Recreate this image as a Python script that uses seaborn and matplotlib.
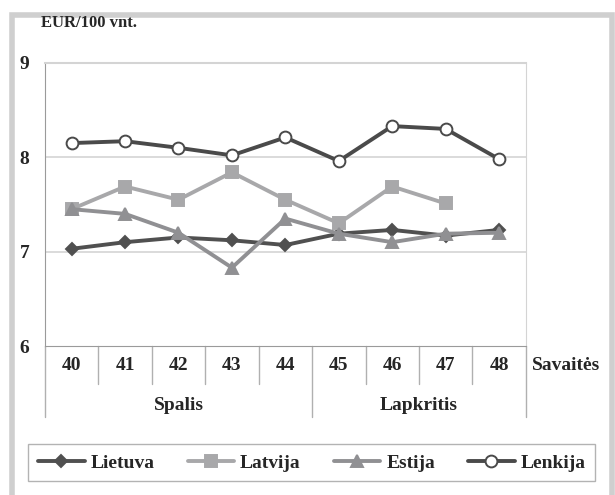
import numpy as np
import pandas as pd
import seaborn as sns
import matplotlib.pyplot as plt
from matplotlib.patches import Rectangle

weeks = ["40", "41", "42", "43", "44", "45", "46", "47", "48"]
months = ["Spalis", "Lapkritis"]
lietuva = [7.03, 7.10, 7.15, 7.12, 7.07, 7.19, 7.23, 7.17, 7.23]
latvija = [7.45, 7.69, 7.55, 7.84, 7.55, 7.30, 7.69, 7.51, np.nan]
estija = [7.45, 7.40, 7.20, 6.83, 7.35, 7.19, 7.10, 7.19, 7.20]
lenkija = [8.15, 8.17, 8.10, 8.02, 8.21, 7.96, 8.33, 8.30, 7.98]

df = pd.DataFrame({"week": weeks, "Lietuva": lietuva, "Latvija": latvija,
                   "Estija": estija, "Lenkija": lenkija})
long = df.melt(id_vars="week", var_name="country", value_name="price")

sns.set_style("white")
plt.rcParams["font.family"] = ["Liberation Serif", "DejaVu Serif"]
plt.rcParams["font.weight"] = "bold"

fig = plt.figure(figsize=(6.15, 4.95), dpi=100)
ax = fig.add_axes([0.073, 0.301, 0.782, 0.572])

# outer frame
fig.patches.append(Rectangle((0.02, -0.05), 0.975, 1.02, transform=fig.transFigure,
                             fill=False, edgecolor="#cfcfcf", linewidth=4))

styles = {
    "Lietuva": dict(color="#505050", marker="D", ms=6.5, mfc="#505050", mec="#505050"),
    "Latvija": dict(color="#a8a8aa", marker="s", ms=8.5, mfc="#a8a8aa", mec="#a8a8aa"),
    "Estija": dict(color="#909093", marker="^", ms=8.5, mfc="#909093", mec="#909093"),
    "Lenkija": dict(color="#4a4a4a", marker="o", ms=8.5, mfc="white", mec="#4a4a4a"),
}
for name, st in styles.items():
    sub = long[long["country"] == name]
    sns.lineplot(data=sub, x="week", y="price", ax=ax, color=st["color"], lw=2.8,
                 marker=st["marker"], markersize=st["ms"], markerfacecolor=st["mfc"],
                 markeredgecolor=st["mec"], markeredgewidth=1.4, label=name, legend=False)

ax.set_xlim(-0.5, len(weeks) - 0.5)
ax.set_ylim(6, 9)
ax.set_yticks([6, 7, 8, 9])
ax.set_yticklabels(["6", "7", "8", "9"], fontsize=14, fontweight="bold")
ax.tick_params(axis="y", length=8, color="#888888", pad=3)
ax.set_xticks([])
ax.set_xlabel("")
ax.set_ylabel("")
for y in [7, 8]:
    ax.axhline(y, color="#d4d4d4", lw=1.2, zorder=0)
for s in ["top", "bottom", "left"]:
    ax.spines[s].set_color("#9a9a9a")
ax.spines["right"].set_color("#d4d4d4")
ax.spines["top"].set_color("#d4d4d4")
ax.spines["top"].set_linewidth(1.5)

# category axis below
trans = ax.get_xaxis_transform()
for i, w in enumerate(weeks):
    ax.text(i, -0.04, w, transform=trans, ha="center", va="top", fontsize=14,
            fontweight="bold")
for i in range(len(weeks) + 1):
    bottom = -0.25 if i in (0, 5, 9) else -0.135
    ax.plot([i - 0.5, i - 0.5], [0, bottom], transform=trans, color="#b0b0b0",
            lw=1, clip_on=False)
ax.text(2, -0.18, months[0], transform=trans, ha="center", va="top", fontsize=14,
        fontweight="bold")
ax.text(6.5, -0.18, months[1], transform=trans, ha="center", va="top", fontsize=14,
        fontweight="bold")
ax.text(8.62, -0.04, "Savaitės", transform=trans, ha="left", va="top",
        fontsize=14, fontweight="bold")

fig.text(0.066, 0.953, "EUR/100 vnt.", ha="left", va="center", fontsize=12,
         fontweight="bold")

handles, labels = ax.get_legend_handles_labels()
leg = fig.legend(handles, labels, loc="center", bbox_to_anchor=(0.507, 0.065), ncol=4,
                 frameon=True, fancybox=False, edgecolor="#a0a0a0", fontsize=14,
                 handlelength=2.4, columnspacing=1.7, handletextpad=0.3,
                 borderpad=0.5)
leg.get_frame().set_linewidth(1)

fig.savefig("out.png", dpi=100)
